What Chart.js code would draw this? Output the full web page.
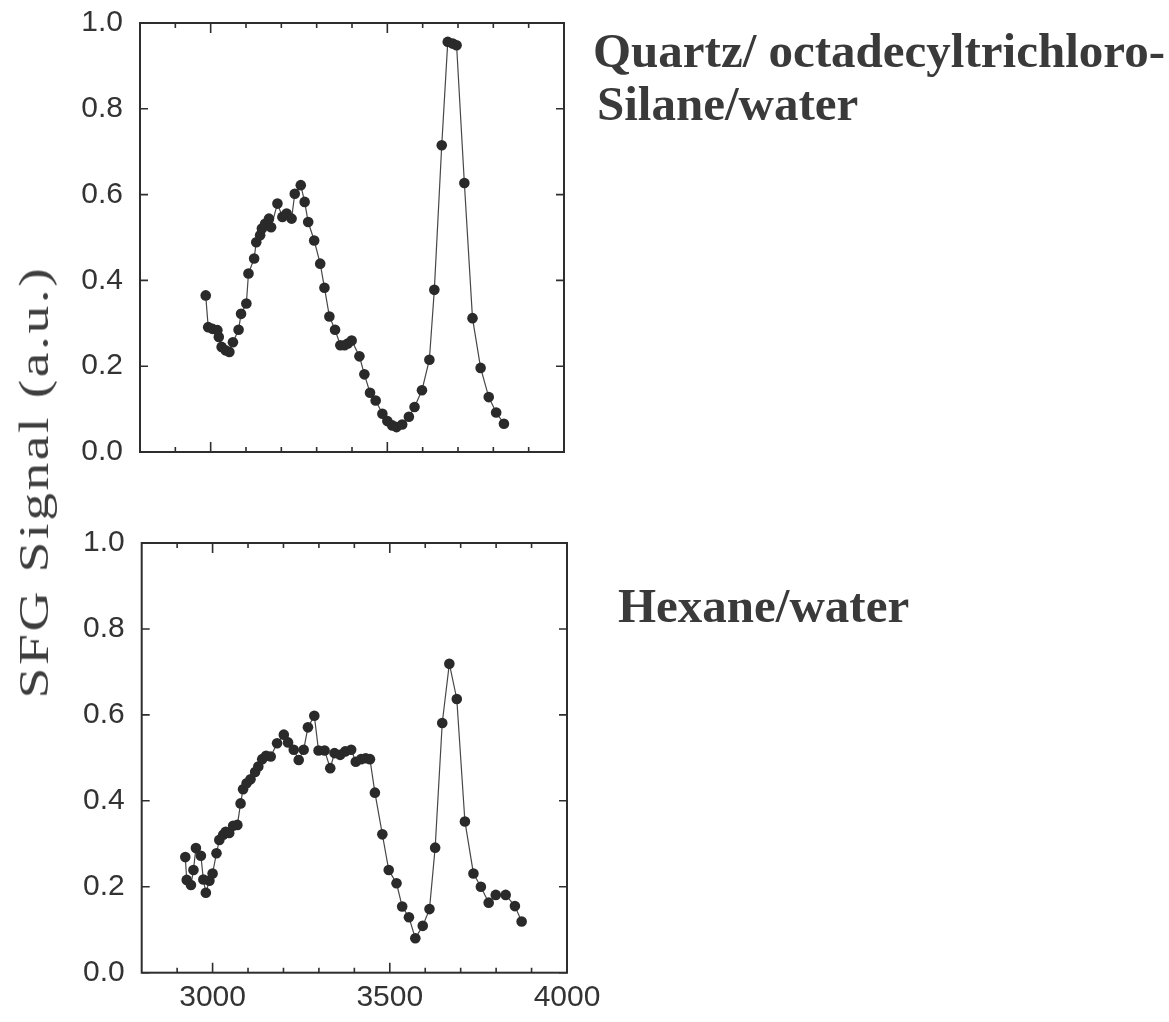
<!DOCTYPE html>
<html>
<head>
<meta charset="utf-8">
<script src="https://cdn.jsdelivr.net/npm/chart.js@4.4.1/dist/chart.umd.min.js"></script>
<style>
  html, body { margin: 0; padding: 0; background: #ffffff; }
  #wrap { position: relative; width: 1169px; height: 1022px; overflow: hidden; background: #ffffff; }
  canvas { position: absolute; left: 0; }
  .lbl { position: absolute; font-family: "Liberation Serif", "Times New Roman", serif; font-weight: bold;
         font-size: 49px; line-height: 49px; color: #3a3a3a; white-space: nowrap; }
  #ytitle { position: absolute; left: 34px; top: 482px; font-family: "Liberation Serif", "Times New Roman", serif;
            font-size: 42px; line-height: 42px; letter-spacing: 2px; color: #3e3e3e; white-space: nowrap;
            transform: translate(-50%, -50%) rotate(-90deg) scaleX(1.32); }
</style>
</head>
<body>
<div id="wrap">
  <canvas id="top" width="1169" height="499" style="top:-12.3px"></canvas>
  <canvas id="bot" width="1169" height="514" style="top:508px"></canvas>
  <div id="ytitle">SFG Signal (a.u.)</div>
  <div class="lbl" style="left:593px; top:25.6px">Quartz/ octadecyltrichloro-</div>
  <div class="lbl" style="left:597px; top:79px">Silane/water</div>
  <div class="lbl" style="left:618px; top:580.6px">Hexane/water</div>
</div>
<script>
// ---- Data: Quartz / octadecyltrichlorosilane / water (top panel) ----
const topWavenumber = [2986, 2993, 3005, 3019, 3023, 3031, 3042, 3053, 3063, 3079, 3086, 3101, 3107, 3123, 3129, 3140, 3145, 3154, 3165, 3171, 3189, 3203, 3215, 3229, 3238, 3255, 3266, 3276, 3293, 3310, 3322, 3336, 3352, 3367, 3379, 3388, 3399, 3421, 3435, 3451, 3467, 3486, 3500, 3514, 3526, 3542, 3561, 3577, 3598, 3619, 3633, 3654, 3671, 3685, 3696, 3718, 3741, 3764, 3787, 3808, 3830];
const topSignal = [0.365, 0.291, 0.287, 0.284, 0.268, 0.245, 0.237, 0.233, 0.256, 0.285, 0.322, 0.346, 0.416, 0.451, 0.489, 0.505, 0.521, 0.532, 0.544, 0.524, 0.579, 0.548, 0.556, 0.544, 0.602, 0.622, 0.583, 0.536, 0.493, 0.439, 0.383, 0.316, 0.285, 0.249, 0.249, 0.253, 0.260, 0.223, 0.181, 0.138, 0.120, 0.089, 0.072, 0.062, 0.058, 0.064, 0.082, 0.105, 0.144, 0.215, 0.378, 0.715, 0.956, 0.952, 0.948, 0.627, 0.312, 0.196, 0.128, 0.092, 0.066];

// ---- Data: Hexane / water (bottom panel) ----
const botWavenumber = [2923, 2927, 2939, 2946, 2953, 2967, 2974, 2981, 2991, 3000, 3011, 3019, 3030, 3037, 3047, 3058, 3070, 3079, 3086, 3096, 3107, 3120, 3129, 3140, 3151, 3164, 3182, 3201, 3213, 3229, 3243, 3257, 3269, 3287, 3299, 3316, 3332, 3344, 3360, 3374, 3391, 3404, 3419, 3432, 3444, 3458, 3479, 3497, 3519, 3535, 3554, 3572, 3593, 3612, 3628, 3648, 3668, 3689, 3712, 3736, 3757, 3779, 3799, 3827, 3853, 3872];
const botSignal = [0.269, 0.216, 0.204, 0.239, 0.290, 0.272, 0.217, 0.186, 0.214, 0.231, 0.278, 0.309, 0.321, 0.328, 0.325, 0.342, 0.344, 0.394, 0.427, 0.441, 0.450, 0.467, 0.480, 0.497, 0.505, 0.503, 0.534, 0.554, 0.536, 0.519, 0.495, 0.519, 0.571, 0.598, 0.517, 0.517, 0.476, 0.511, 0.507, 0.515, 0.519, 0.491, 0.497, 0.499, 0.497, 0.419, 0.322, 0.239, 0.208, 0.154, 0.129, 0.080, 0.109, 0.148, 0.291, 0.581, 0.719, 0.637, 0.352, 0.231, 0.200, 0.163, 0.181, 0.181, 0.155, 0.119];

// ---- Tick labels ----
const yTickValues = [0.0, 0.2, 0.4, 0.6, 0.8, 1.0];
const xTickValues = [3000, 3500, 4000];
const xMinorTickValues = [2900, 3000, 3100, 3200, 3300, 3400, 3500, 3600, 3700, 3800, 3900];
const xRange = [2800, 4000];
const yRange = [0, 1];

function toPoints(xs, ys) { return xs.map((x, i) => ({ x: x, y: ys[i] })); }

const framePlugin = {
  id: 'frame',
  afterDatasetsDraw(chart) {
    const { ctx, chartArea: a, scales } = chart;
    const x = scales.x, y = scales.y;
    ctx.save();
    ctx.strokeStyle = '#2e2e2e';
    ctx.lineWidth = 2;
    ctx.strokeRect(a.left, a.top, a.right - a.left, a.bottom - a.top);
    ctx.lineWidth = 1.6;
    ctx.beginPath();
    yTickValues.forEach(v => {
      const py = y.getPixelForValue(v);
      ctx.moveTo(a.left, py); ctx.lineTo(a.left + 8, py);
      ctx.moveTo(a.right, py); ctx.lineTo(a.right - 8, py);
    });
    xMinorTickValues.forEach(v => {
      const px = x.getPixelForValue(v);
      const len = xTickValues.includes(v) ? 10 : 5;
      ctx.moveTo(px, a.bottom); ctx.lineTo(px, a.bottom - len);
      ctx.moveTo(px, a.top); ctx.lineTo(px, a.top + len);
    });
    ctx.stroke();
    ctx.restore();
  }
};

function makeChart(id, xs, ys, opts) {
  return new Chart(document.getElementById(id), {
    type: 'scatter',
    data: {
      datasets: [{
        data: toPoints(xs, ys),
        showLine: true,
        borderColor: '#474747',
        borderWidth: 1.2,
        pointRadius: 5.3,
        pointHoverRadius: 5.3,
        pointBackgroundColor: '#2a2a2a',
        pointBorderWidth: 0,
        tension: 0
      }]
    },
    options: {
      responsive: false,
      animation: false,
      devicePixelRatio: 1,
      layout: { padding: opts.padding },
      plugins: { legend: { display: false }, tooltip: { enabled: false } },
      scales: {
        x: {
          type: 'linear',
          min: xRange[0], max: xRange[1],
          grid: { display: false, drawTicks: false },
          border: { display: false },
          afterBuildTicks: s => { s.ticks = xTickValues.map(v => ({ value: v })); },
          afterFit: s => { s.height = opts.xHeight; },
          ticks: {
            display: opts.showX,
            padding: 7,
            color: '#333',
            font: { family: '"Liberation Sans", Arial, sans-serif', size: 30 },
            callback: v => String(v),
            maxRotation: 0, autoSkip: false
          }
        },
        y: {
          type: 'linear',
          min: yRange[0], max: yRange[1],
          grid: { display: false, drawTicks: false },
          border: { display: false },
          afterBuildTicks: s => { s.ticks = yTickValues.map(v => ({ value: v })); },
          afterFit: s => { s.width = opts.yWidth; },
          ticks: {
            padding: 17,
            color: '#333',
            font: { family: '"Liberation Sans", Arial, sans-serif', size: 30 },
            callback: v => Number(v).toFixed(1)
          }
        }
      }
    },
    plugins: [framePlugin]
  });
}

// Chart areas: top panel y 22.7..451.7 (page), bottom panel y 543..972.7 (page)
makeChart('top', topWavenumber, topSignal, {
  padding: { top: 0, bottom: 0, left: 0, right: 605 },
  xHeight: 0, yWidth: 140, showX: false
});
makeChart('bot', botWavenumber, botSignal, {
  padding: { top: 0, bottom: 0, left: 0, right: 602 },
  xHeight: 49.3, yWidth: 141.7, showX: true
});
</script>
</body>
</html>
